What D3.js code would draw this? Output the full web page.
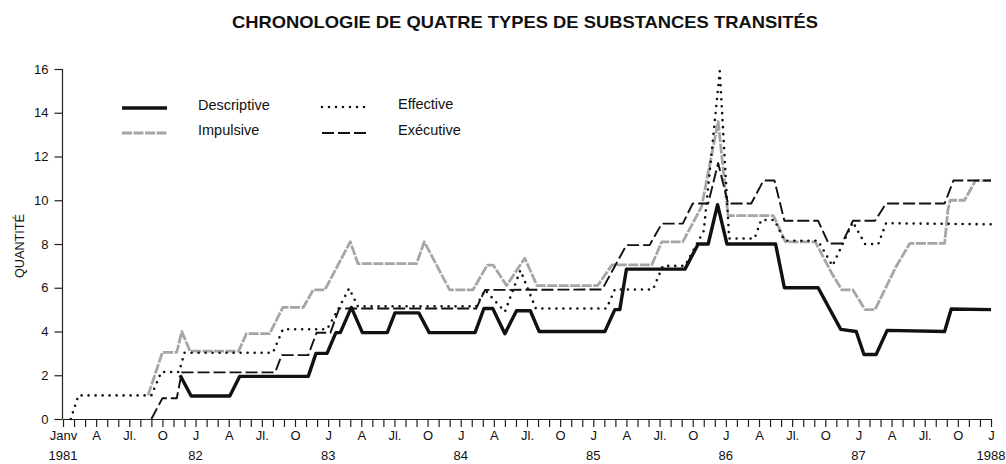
<!DOCTYPE html>
<html>
<head>
<meta charset="utf-8">
<script src="https://cdn.jsdelivr.net/npm/d3@7"></script>
<style>
	body { margin: 0; background: #fff; }
	text { font-family: "Liberation Sans", Arial, sans-serif; fill: #111; }
</style>
</head>
<body>
<svg id="chart" width="1006" height="464"></svg>
<script>
// month index counted from Janv 1981, value = quantité
var descriptive = [
	[10.6, 2.0], [11.6, 1.05], [15.1, 1.05], [16.0, 1.95], [22.2, 1.95], [22.9, 3.0], [23.9, 3.0],
	[24.7, 3.95], [25.1, 3.95], [26.1, 5.1], [27.1, 3.95], [29.35, 3.95], [30.05, 4.85], [32.2, 4.85],
	[33.15, 3.95], [37.3, 3.95], [38.1, 5.05], [38.9, 5.05], [40.0, 3.9], [41.05, 4.95], [42.3, 4.95],
	[43.1, 4.0], [49.05, 4.0], [49.95, 5.0], [50.4, 5.0], [51.0, 6.85], [56.3, 6.85], [57.5, 8.0],
	[58.4, 8.0], [59.25, 9.8], [60.1, 8.0], [64.5, 8.0], [65.3, 6.0], [68.35, 6.0], [70.4, 4.1],
	[71.8, 4.0], [72.5, 2.95], [73.6, 2.95], [74.6, 4.05], [79.8, 4.0], [80.4, 5.03], [84.0, 5.0]
];
var effective = [
	[0.7, 0], [1.4, 1.08], [8.0, 1.08], [8.9, 2.15], [10.5, 2.15], [11.0, 3.03], [19.0, 3.03],
	[19.9, 4.1], [23.9, 4.1], [25.0, 5.1], [25.9, 5.97], [26.7, 5.15], [37.4, 5.15], [38.2, 5.9],
	[40.0, 4.9], [41.4, 6.8], [42.8, 5.05], [49.2, 5.05], [49.95, 5.92], [53.4, 5.92], [54.3, 7.0],
	[56.3, 7.0], [58.0, 8.6], [59.45, 15.9], [60.3, 8.25], [62.6, 8.25], [63.2, 9.1], [64.4, 9.1],
	[65.3, 8.15], [68.35, 8.15], [69.65, 7.0], [71.5, 9.0], [72.6, 8.0], [73.8, 8.0], [74.5, 8.95],
	[84.0, 8.9]
];
var impulsive = [
	[7.7, 1.08], [9.0, 3.05], [10.3, 3.05], [10.75, 4.0], [11.5, 3.1], [15.9, 3.1], [16.6, 3.9],
	[18.7, 3.9], [19.9, 5.1], [21.75, 5.1], [22.65, 5.9], [23.7, 5.9], [26.0, 8.1], [26.7, 7.1],
	[32.0, 7.1], [32.7, 8.1], [35.0, 5.9], [37.1, 5.9], [38.4, 7.03], [38.95, 7.03], [40.15, 6.1],
	[41.8, 7.35], [42.9, 6.1], [48.4, 6.1], [49.7, 7.05], [53.3, 7.05], [54.2, 8.1], [56.1, 8.1],
	[57.8, 9.7], [59.3, 13.6], [60.2, 9.3], [64.3, 9.3], [65.4, 8.1], [68.1, 8.1], [69.6, 6.65],
	[70.5, 5.9], [71.5, 5.9], [72.6, 5.0], [73.5, 5.0], [75.4, 6.96], [76.65, 8.03], [79.8, 8.03],
	[80.1, 9.55], [80.3, 10.0], [81.6, 10.0], [82.6, 10.9], [84.0, 10.9]
];
var executive = [
	[8.0, 0], [9.0, 0.95], [10.3, 0.95], [10.75, 2.13], [19.2, 2.13], [19.8, 2.92], [22.2, 2.92],
	[22.95, 3.94], [24.2, 3.94], [25.0, 5.05], [37.4, 5.05], [38.2, 5.9], [48.8, 5.92], [51.0, 7.95],
	[53.1, 7.95], [54.2, 8.93], [56.1, 8.93], [57.0, 9.85], [58.4, 9.85], [59.3, 11.7], [60.2, 9.85],
	[62.3, 9.85], [63.4, 10.9], [64.4, 10.9], [65.3, 9.06], [68.35, 9.06], [69.3, 8.02], [70.5, 8.02],
	[71.5, 9.06], [73.5, 9.06], [74.5, 9.85], [79.8, 9.85], [80.6, 10.9], [84.0, 10.9]
];

var quarterLabels = ["Janv", "A", "Jl.", "O"];
var yearLabels = ["1981", "82", "83", "84", "85", "86", "87", "1988"];
var yTicks = [0, 2, 4, 6, 8, 10, 12, 14, 16];
var seriesNames = ["Descriptive", "Impulsive", "Effective", "Exécutive"];

var svg = d3.select("#chart");

// scales
var xScale = d3.scaleLinear().domain([0, 84]).range([63, 991]);
var yScale = d3.scaleLinear().domain([0, 16]).range([419, 69]);

// line styles
var styles = {
	"Descriptive": { stroke: "#111", width: 3.4, dash: null, cap: "butt" },
	"Impulsive": { stroke: "#a6a6a6", width: 2.8, dash: "10,1.5", cap: "butt" },
	"Effective": { stroke: "#111", width: 2.6, dash: "0,7", cap: "round" },
	"Exécutive": { stroke: "#111", width: 1.9, dash: "12,4", cap: "butt" }
};

// title
svg.append("text")
	.attr("x", 525)
	.attr("y", 28)
	.attr("text-anchor", "middle")
	.attr("textLength", 586)
	.attr("lengthAdjust", "spacingAndGlyphs")
	.style("font-size", "17px")
	.style("font-weight", "bold")
	.text("CHRONOLOGIE DE QUATRE TYPES DE SUBSTANCES TRANSITÉS");

// y axis
var yAxis = d3.axisLeft(yScale)
	.tickValues(yTicks)
	.tickSize(8)
	.tickPadding(6);
var yAxisG = svg.append("g")
	.attr("class", "axis y")
	.attr("transform", "translate(62.5,0)")
	.call(yAxis);
yAxisG.select(".domain").attr("d", "M0," + yScale(16) + "V" + yScale(0));
yAxisG.selectAll("text").style("font-size", "13px").style("font-family", "Liberation Sans, Arial, sans-serif");

svg.append("text")
	.attr("transform", "translate(20,246) rotate(-90)")
	.attr("text-anchor", "middle")
	.attr("dy", "0.35em")
	.attr("textLength", 64)
	.attr("lengthAdjust", "spacingAndGlyphs")
	.style("font-size", "12px")
	.text("QUANTITÉ");

// x axis, one tick per month
var xAxis = d3.axisBottom(xScale)
	.tickValues(d3.range(0, 85))
	.tickSize(8)
	.tickFormat(function(d) {
		if (d % 3 != 0) return "";
		if (d == 0) return quarterLabels[0];
		return d % 12 == 0 ? "J" : quarterLabels[(d % 12) / 3];
	});
var xAxisG = svg.append("g")
	.attr("class", "axis x")
	.attr("transform", "translate(0," + yScale(0) + ")")
	.call(xAxis);
xAxisG.select(".domain").attr("d", "M" + xScale(0) + ",0.5H" + xScale(84));
xAxisG.selectAll("text")
	.attr("y", 12)
	.style("font-size", "13px")
	.style("font-family", "Liberation Sans, Arial, sans-serif");

svg.append("g")
	.attr("class", "years")
	.selectAll("text")
	.data(yearLabels)
	.enter()
	.append("text")
	.attr("x", function(d, i) { return xScale(i * 12); })
	.attr("y", 460)
	.attr("text-anchor", "middle")
	.style("font-size", "13px")
	.text(function(d) { return d; });

svg.selectAll(".axis path, .axis line").style("stroke", "#222").style("stroke-width", 1.2);

// series
var line = d3.line()
	.x(function(d) { return xScale(d[0]); })
	.y(function(d) { return yScale(d[1]); });

var seriesData = {
	"Impulsive": impulsive,
	"Effective": effective,
	"Exécutive": executive,
	"Descriptive": descriptive
};
["Impulsive", "Effective", "Exécutive", "Descriptive"].forEach(function(name) {
	var s = styles[name];
	svg.append("path")
		.datum(seriesData[name])
		.attr("class", "series")
		.attr("d", line)
		.style("fill", "none")
		.style("stroke", s.stroke)
		.style("stroke-width", s.width)
		.style("stroke-linejoin", "round")
		.style("stroke-linecap", s.cap)
		.style("stroke-dasharray", s.dash);
});

// legend
var legendPos = [
	{ x: 122, y: 108 },
	{ x: 122, y: 133 },
	{ x: 322, y: 107 },
	{ x: 322, y: 133 }
];
seriesNames.forEach(function(name, i) {
	var s = styles[name];
	var g = svg.append("g").attr("transform", "translate(" + legendPos[i].x + "," + legendPos[i].y + ")");
	g.append("line")
		.attr("x1", 0).attr("x2", 45)
		.style("stroke", s.stroke)
		.style("stroke-width", s.width)
		.style("stroke-linecap", s.cap)
		.style("stroke-dasharray", s.dash);
	g.append("text")
		.attr("x", 76)
		.attr("y", -3)
		.attr("dy", "0.35em")
		.style("font-size", "14.5px")
		.text(name);
});
</script>
</body>
</html>
